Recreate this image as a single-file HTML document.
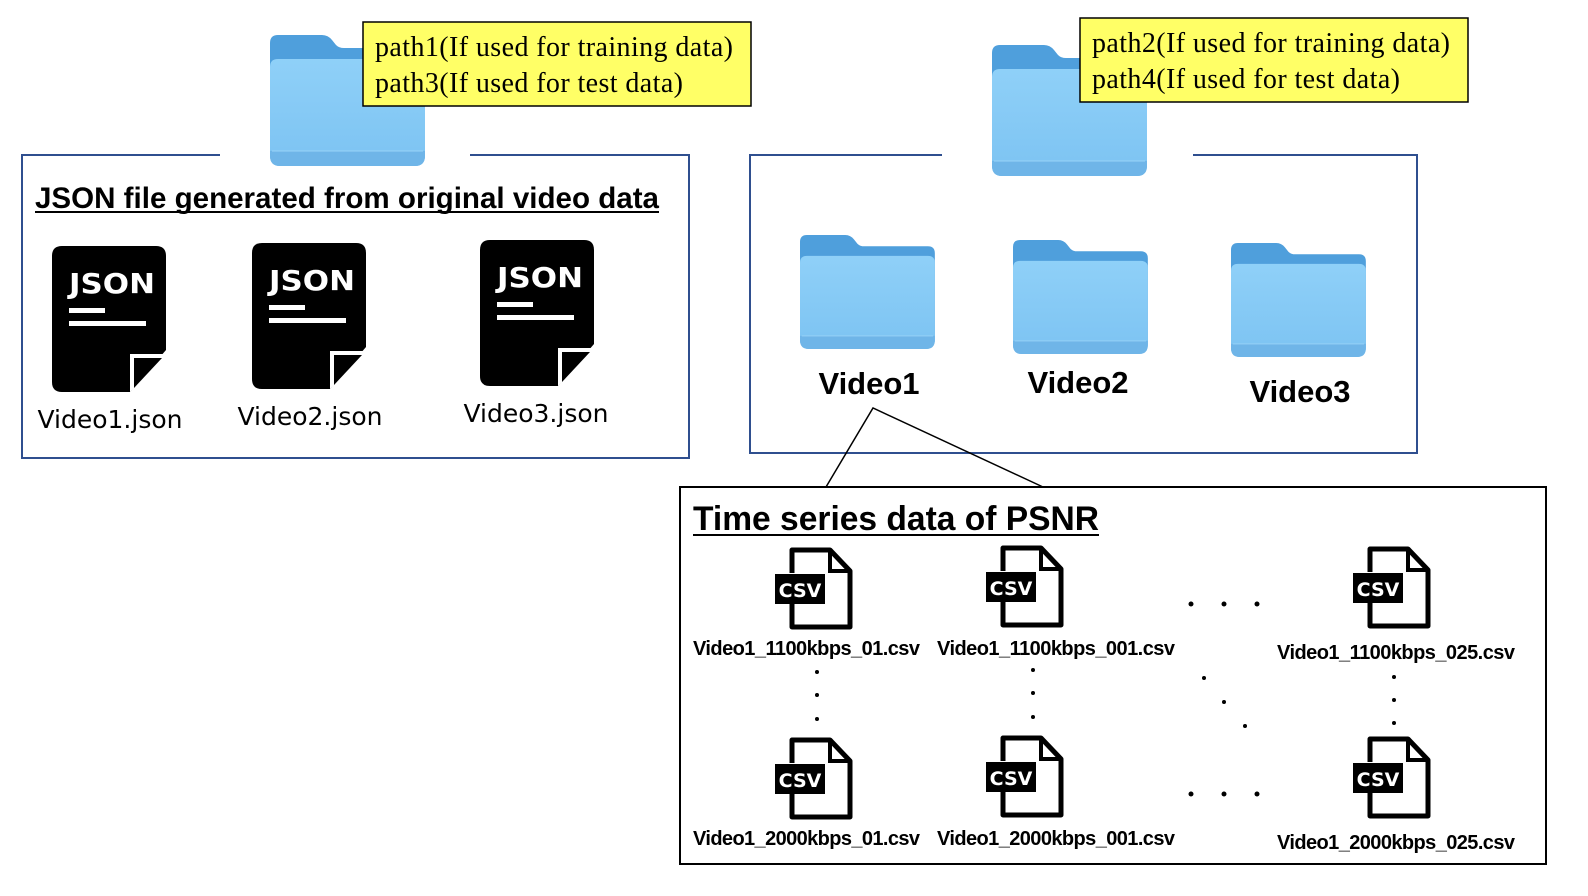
<!DOCTYPE html>
<html><head><meta charset="utf-8"><style>body{margin:0;background:#fff}svg{display:block}</style></head><body>
<svg width="1588" height="896" viewBox="0 0 1588 896" xmlns="http://www.w3.org/2000/svg">
<defs>
<linearGradient id="fg" x1="0" y1="0" x2="0" y2="1"><stop offset="0" stop-color="#8fd0f8"/><stop offset="1" stop-color="#7cc3f2"/></linearGradient>
<g id="folder">
<path d="M8 0 H52 Q58 0 62 5 L66 10 Q69 13 74 13 H147 Q155 13 155 21 V120 Q155 130 145 130 H10 Q0 130 0 120 V8 Q0 0 8 0Z" fill="#4f9fdc"/>
<path d="M8 24 H147 Q155 24 155 32 V120 Q155 131 145 131 H10 Q0 131 0 120 V32 Q0 24 8 24Z" fill="url(#fg)"/>
<path d="M0 116 H155 V121 Q155 131 145 131 H10 Q0 131 0 121Z" fill="#6fb5e8"/>
<line x1="2" y1="116" x2="153" y2="116" stroke="#9ad4f7" stroke-width="1"/>
</g>
<g id="json">
<path d="M10 0 H104 Q114 0 114 10 V104 L78 146 H10 Q0 146 0 136 V10 Q0 0 10 0Z" fill="#000"/>
<path d="M78 146 V108 H114Z" fill="#fff"/>
<path d="M82 142 V112 H110Z" fill="#000"/>
<text x="60" y="47" font-family="DejaVu Sans, sans-serif" font-weight="bold" font-size="28" fill="#fff" text-anchor="middle" textLength="86" lengthAdjust="spacingAndGlyphs">JSON</text>
<rect x="17" y="62" width="36" height="5" fill="#fff"/>
<rect x="17" y="75" width="77" height="5" fill="#fff"/>
</g>
<g id="csv">
<path d="M17 26 V3 H55 L75 24 V80 H17 V56" fill="none" stroke="#000" stroke-width="5" stroke-linejoin="round"/>
<path d="M55 3 V24 H75" fill="none" stroke="#000" stroke-width="4"/>
<rect x="0" y="27" width="50" height="30" fill="#000"/>
<text x="25" y="50" font-family="DejaVu Sans, sans-serif" font-weight="bold" font-size="19" fill="#fff" text-anchor="middle">CSV</text>
</g>
</defs>

<path d="M220 155 H22 V458 H689 V155 H470" fill="none" stroke="#2f4f8f" stroke-width="2"/>
<use href="#folder" transform="translate(270,35)"/>
<rect x="363" y="22" width="388" height="84" fill="#ffff66" stroke="#000" stroke-width="1.5"/>
<text font-family="Liberation Serif, serif" font-size="28" fill="#000" lengthAdjust="spacingAndGlyphs"><tspan x="375" y="56" textLength="358">path1(If used for training data)</tspan><tspan x="375" y="92" textLength="308">path3(If used for test data)</tspan></text>
<text x="35" y="208" font-family="Liberation Sans, sans-serif" font-weight="bold" font-size="30" textLength="624" lengthAdjust="spacingAndGlyphs">JSON file generated from original video data</text>
<line x1="35" y1="212" x2="659" y2="212" stroke="#000" stroke-width="2"/>
<use href="#json" transform="translate(52,246)"/>
<use href="#json" transform="translate(252,243)"/>
<use href="#json" transform="translate(480,240)"/>
<g font-family="DejaVu Sans, sans-serif" font-size="25" text-anchor="middle">
<text x="110" y="428">Video1.json</text>
<text x="310" y="425">Video2.json</text>
<text x="536" y="422">Video3.json</text>
</g>

<path d="M942 155 H750 V453 H1417 V155 H1193" fill="none" stroke="#2f4f8f" stroke-width="2"/>
<use href="#folder" transform="translate(992,45)"/>
<rect x="1080" y="18" width="388" height="84" fill="#ffff66" stroke="#000" stroke-width="1.5"/>
<text font-family="Liberation Serif, serif" font-size="28" fill="#000" lengthAdjust="spacingAndGlyphs"><tspan x="1092" y="52" textLength="358">path2(If used for training data)</tspan><tspan x="1092" y="88" textLength="308">path4(If used for test data)</tspan></text>
<use href="#folder" transform="translate(800,235) scale(0.87)"/>
<use href="#folder" transform="translate(1013,240) scale(0.87)"/>
<use href="#folder" transform="translate(1231,243) scale(0.87)"/>
<g font-family="Liberation Sans, sans-serif" font-weight="bold" font-size="31" text-anchor="middle">
<text x="869" y="394">Video1</text>
<text x="1078" y="393">Video2</text>
<text x="1300" y="402">Video3</text>
</g>
<polyline points="826,487 873,408 1043,487" fill="none" stroke="#000" stroke-width="1.5"/>

<rect x="680" y="487" width="866" height="377" fill="#fff" stroke="#000" stroke-width="2"/>
<text x="693" y="530" font-family="Liberation Sans, sans-serif" font-weight="bold" font-size="34" textLength="406" lengthAdjust="spacingAndGlyphs">Time series data of PSNR</text>
<line x1="693" y1="535" x2="1099" y2="535" stroke="#000" stroke-width="2"/>
<use href="#csv" transform="translate(775,547)"/>
<use href="#csv" transform="translate(986,545)"/>
<use href="#csv" transform="translate(1353,546)"/>
<use href="#csv" transform="translate(775,737)"/>
<use href="#csv" transform="translate(986,735)"/>
<use href="#csv" transform="translate(1353,736)"/>
<g font-family="Liberation Sans, sans-serif" font-weight="bold" font-size="20" lengthAdjust="spacingAndGlyphs">
<text x="693" y="655" textLength="227">Video1_1100kbps_01.csv</text>
<text x="937" y="655" textLength="238">Video1_1100kbps_001.csv</text>
<text x="1277" y="659" textLength="238">Video1_1100kbps_025.csv</text>
<text x="693" y="845" textLength="227">Video1_2000kbps_01.csv</text>
<text x="937" y="845" textLength="238">Video1_2000kbps_001.csv</text>
<text x="1277" y="849" textLength="238">Video1_2000kbps_025.csv</text>
</g>
<g fill="#000">
<circle cx="1191" cy="604" r="2.5"/><circle cx="1224" cy="604" r="2.5"/><circle cx="1257" cy="604" r="2.5"/>
<circle cx="1191" cy="794" r="2.5"/><circle cx="1224" cy="794" r="2.5"/><circle cx="1257" cy="794" r="2.5"/>
<circle cx="817" cy="672" r="2"/><circle cx="817" cy="695" r="2"/><circle cx="817" cy="719" r="2"/>
<circle cx="1033" cy="670" r="2"/><circle cx="1033" cy="693" r="2"/><circle cx="1033" cy="717" r="2"/>
<circle cx="1394" cy="677" r="2"/><circle cx="1394" cy="700" r="2"/><circle cx="1394" cy="723" r="2"/>
<circle cx="1204" cy="678" r="2"/><circle cx="1224" cy="702" r="2"/><circle cx="1245" cy="726" r="2"/>
</g>
</svg>
</body></html>
